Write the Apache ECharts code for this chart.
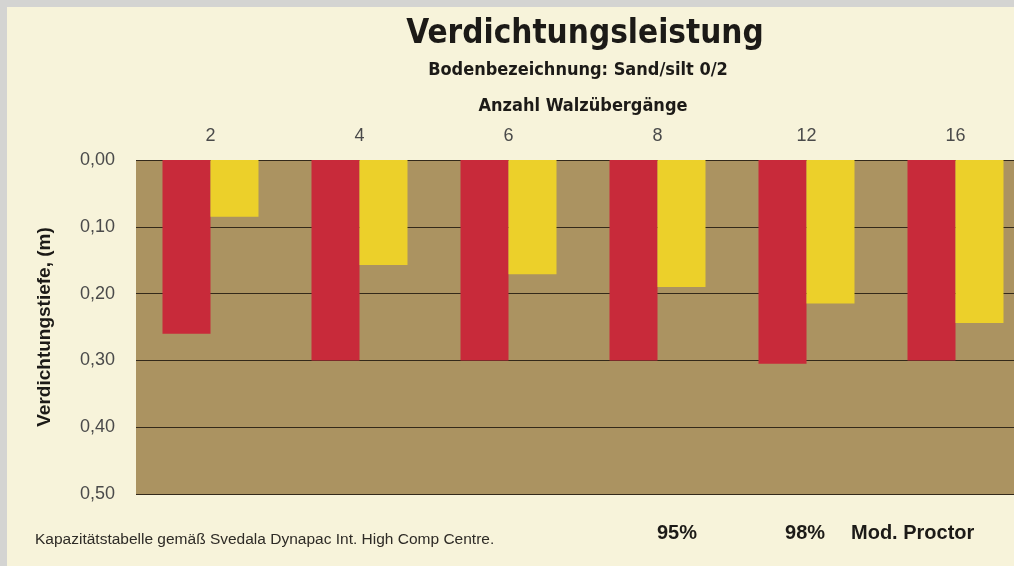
<!DOCTYPE html>
<html>
<head>
<meta charset="utf-8">
<script src="https://cdn.jsdelivr.net/npm/echarts@6/dist/echarts.min.js"></script>
<style>
  html, body { margin: 0; padding: 0; background: #d4d4d2; overflow: hidden; width: 1014px; height: 566px; }
  .paper { position: absolute; left: 7px; top: 7px; width: 1007px; height: 559px; background: #f7f3da; }
  /* plot runs past the right edge in the original, so the canvas is wider than the window */
  #chart { position: absolute; left: 0; top: 0; width: 1030px; height: 566px; }
</style>
</head>
<body>
<div class="paper"></div>
<div id="chart"></div>
<script>
// Anzahl Walzübergänge
const passes = ['2', '4', '6', '8', '12', '16'];
// Verdichtungstiefe (m)
const depth95 = [0.26, 0.30, 0.30, 0.30, 0.305, 0.30];
const depth98 = [0.085, 0.157, 0.171, 0.19, 0.215, 0.244];
const depthTicks = [0, 0.1, 0.2, 0.3, 0.4, 0.5];

const narrow = "'Liberation Sans Narrow', 'DejaVu Sans Condensed', sans-serif";
const sans = "'Liberation Sans', 'DejaVu Sans', sans-serif";

const chart = echarts.init(document.getElementById('chart'));

chart.setOption({
    backgroundColor: 'transparent',
    animation: false,
    title: [
        {
            text: 'Verdichtungsleistung',
            left: 580,
            top: 13,
            textAlign: 'center',
            textStyle: { fontFamily: narrow, fontWeight: 'bold', fontSize: 33, color: '#1c1a17' },
        },
        {
            text: 'Bodenbezeichnung: Sand/silt 0/2',
            left: 573,
            top: 56,
            textAlign: 'center',
            textStyle: { fontFamily: narrow, fontWeight: 'bold', fontSize: 18, color: '#1c1a17' },
        },
    ],
    legend: {
        data: ['95%', '98%'],
        left: 652,
        top: 523,
        padding: 0,
        icon: 'none',
        itemWidth: 0,
        itemGap: 83,
        selectedMode: false,
        textStyle: { fontFamily: sans, fontWeight: 'bold', fontSize: 20, color: '#1c1a17' },
    },
    graphic: [
        {
            type: 'text',
            left: 851,
            top: 523,
            style: { text: 'Mod. Proctor', font: "bold 20px 'Liberation Sans', sans-serif", fill: '#1c1a17' },
        },
        {
            type: 'text',
            left: 35,
            top: 532,
            style: {
                text: 'Kapazitätstabelle gemäß Svedala Dynapac Int. High Comp Centre.',
                font: "15.5px 'Liberation Sans', sans-serif",
                fill: '#2e2b26',
            },
        },
    ],
    grid: {
        left: 136,
        right: 0,
        top: 160,
        bottom: 72,
        show: true,
        backgroundColor: '#ab9361',
        borderWidth: 0,
    },
    xAxis: {
        type: 'category',
        position: 'top',
        data: passes,
        name: 'Anzahl Walzübergänge',
        nameLocation: 'middle',
        nameGap: 45,
        nameTextStyle: { fontFamily: narrow, fontWeight: 'bold', fontSize: 18, color: '#1c1a17' },
        axisLine: { show: false },
        axisTick: { show: false },
        axisLabel: { margin: 15, fontFamily: sans, fontSize: 18, color: '#4a4a4a' },
    },
    yAxis: {
        type: 'value',
        inverse: true,
        min: depthTicks[0],
        max: depthTicks[depthTicks.length - 1],
        interval: 0.1,
        name: 'Verdichtungstiefe, (m)',
        nameLocation: 'middle',
        nameRotate: 90,
        nameGap: 82,
        nameTextStyle: { fontFamily: sans, fontWeight: 'bold', fontSize: 19, color: '#1c1a17' },
        axisLine: { show: false },
        axisTick: { show: false },
        axisLabel: {
            margin: 21,
            fontFamily: sans,
            fontSize: 18,
            color: '#4a4a4a',
            formatter: v => v.toFixed(2).replace('.', ','),
        },
        splitLine: { lineStyle: { color: '#33291a', width: 1.2 } },
    },
    series: [
        {
            name: '95%',
            type: 'bar',
            data: depth95,
            barWidth: 48,
            barGap: '0%',
            itemStyle: { color: '#c82a3a' },
        },
        {
            name: '98%',
            type: 'bar',
            data: depth98,
            barWidth: 48,
            itemStyle: { color: '#ecd02a' },
        },
    ],
});
</script>
</body>
</html>
